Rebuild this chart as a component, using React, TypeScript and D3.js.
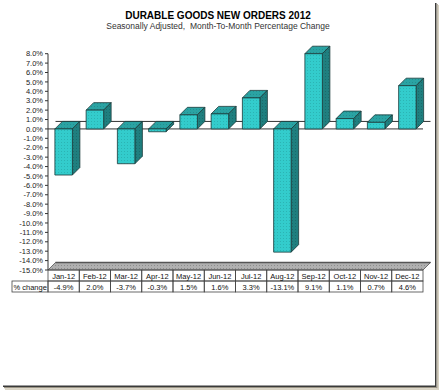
import * as React from "react";
import * as d3 from "d3";

const months = ["Jan-12", "Feb-12", "Mar-12", "Apr-12", "May-12", "Jun-12", "Jul-12", "Aug-12", "Sep-12", "Oct-12", "Nov-12", "Dec-12"];
const changes = [-4.9, 2.0, -3.7, -0.3, 1.5, 1.6, 3.3, -13.1, 9.1, 1.1, 0.7, 4.6];
const yTicks = d3.range(-15, 9, 1);

const W = 439;
const H = 390;
const FONT = "'Liberation Sans', Arial, sans-serif";
// depth offset of the 3D look
const DX = 7.5;
const DY = -7.5;

const App = () => {
  const x = d3.scaleBand().domain(months).range([48, 423]).paddingInner(0.44).paddingOuter(0.22);
  const col = d3.scaleBand().domain(months).range([48, 423]);
  const y = d3.scaleLinear().domain([-15, 8]).range([270, 53.7]);
  const fmt = (v: number) => `${v.toFixed(1)}%`;

  const y0 = y(0);
  const tableTop = 270;
  const rowH = 11;

  return (
    <svg width={W} height={H} style={{ position: "absolute", left: 0, top: 0 }} fontFamily={FONT}>
      <defs>
        <pattern id="stip" width="3" height="3" patternUnits="userSpaceOnUse">
          <rect width="3" height="3" fill="#33CCCC" />
          <rect x="1" y="1" width="1" height="1" fill="#2BB4B4" />
        </pattern>
        <pattern id="stipTop" width="3" height="3" patternUnits="userSpaceOnUse">
          <rect width="3" height="3" fill="#2AA3A3" />
          <rect x="1" y="1" width="1" height="1" fill="#248f8f" />
        </pattern>
        <pattern id="stipSide" width="3" height="3" patternUnits="userSpaceOnUse">
          <rect width="3" height="3" fill="#1F7F7F" />
          <rect x="1" y="1" width="1" height="1" fill="#1a6b6b" />
        </pattern>
        <pattern id="floor" width="3" height="3" patternUnits="userSpaceOnUse">
          <rect width="3" height="3" fill="#B0B0B0" />
          <rect x="1" y="1" width="1" height="1" fill="#8C8C8C" />
        </pattern>
      </defs>
      <rect width={W} height={H} fill="#fff" />

      {/* frame shadow */}
      <rect x={435} y={3} width={1.5} height={384} fill="#3a3a3a" />
      <rect x={3} y={385.5} width={433} height={1.5} fill="#3a3a3a" />
      <rect x={436.5} y={4} width={1.2} height={385} fill="#9a9484" />
      <rect x={4} y={387} width={433} height={1.2} fill="#9a9484" />
      <rect x={437.7} y={5} width={1.3} height={385} fill="#d8d2c2" />
      <rect x={5} y={388.2} width={434} height={1.8} fill="#d8d2c2" />

      <text x={218} y={19} textAnchor="middle" fontSize={10} fontWeight="bold" fill="#000">
        DURABLE GOODS NEW ORDERS 2012
      </text>
      <text x={218} y={29} textAnchor="middle" fontSize={8.5} fill="#333" style={{ whiteSpace: "pre" }}>
        {"Seasonally Adjusted,  Month-To-Month Percentage Change"}
      </text>

      {/* floor */}
      <path
        d={`M48,${y(-15)} L${48 + DX},${y(-15) + DY} L${423 + DX},${y(-15) + DY} L423,${y(-15)} Z`}
        fill="url(#floor)"
        stroke="#555"
        strokeWidth={0.8}
      />
      <line x1={48 + DX} x2={423 + DX} y1={y(-15) + DY} y2={y(-15) + DY} stroke="#555" strokeWidth={1.5} />

      {/* zero lines, back and front */}
      <line x1={48 + DX} x2={423 + DX} y1={y0 + DY} y2={y0 + DY} stroke="#333" strokeWidth={1} />
      <line x1={48} x2={423} y1={y0} y2={y0} stroke="#333" strokeWidth={1} />

      {/* value axis */}
      <line x1={48} x2={48} y1={y(8)} y2={y(-15)} stroke="#333" strokeWidth={1} />
      {yTicks.map((t) => (
        <g key={t}>
          <line x1={45} x2={48} y1={y(t)} y2={y(t)} stroke="#333" strokeWidth={1} />
          <text x={43} y={y(t) + 2.7} textAnchor="end" fontSize={7.5} fill="#222">
            {fmt(t)}
          </text>
        </g>
      ))}

      {/* bars */}
      {months.map((m, i) => {
        const v = Math.min(changes[i], 8);
        const x1 = x(m)!;
        const w = x.bandwidth();
        const yt = y(Math.max(v, 0));
        const yb = y(Math.min(v, 0));
        return (
          <g key={m} stroke="#1a3a3a" strokeWidth={0.8} strokeLinejoin="round">
            <path
              d={`M${x1},${yt} L${x1 + DX},${yt + DY} L${x1 + w + DX},${yt + DY} L${x1 + w},${yt} Z`}
              fill="url(#stipTop)"
            />
            <path
              d={`M${x1 + w},${yt} L${x1 + w + DX},${yt + DY} L${x1 + w + DX},${yb + DY} L${x1 + w},${yb} Z`}
              fill="url(#stipSide)"
            />
            <rect x={x1} y={yt} width={w} height={yb - yt} fill="url(#stip)" />
          </g>
        );
      })}

      {/* data table */}
      <g fontSize={7.5} fill="#111">
        {months.map((m, i) => (
          <g key={m}>
            <rect x={col(m)!} y={tableTop} width={col.bandwidth()} height={rowH} fill="none" stroke="#444" strokeWidth={0.8} />
            <rect x={col(m)!} y={tableTop + rowH} width={col.bandwidth()} height={rowH} fill="none" stroke="#444" strokeWidth={0.8} />
            <text x={col(m)! + col.bandwidth() / 2} y={tableTop + 8.5} textAnchor="middle">
              {m}
            </text>
            <text x={col(m)! + col.bandwidth() / 2} y={tableTop + rowH + 8.5} textAnchor="middle">
              {fmt(changes[i])}
            </text>
          </g>
        ))}
        <rect x={12} y={tableTop + rowH} width={36} height={rowH} fill="none" stroke="#444" strokeWidth={0.8} />
        <text x={13.5} y={tableTop + rowH + 8.5}>
          % change
        </text>
      </g>
    </svg>
  );
};

export default App;
